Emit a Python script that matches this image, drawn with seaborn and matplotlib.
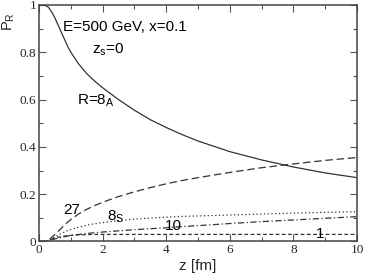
import matplotlib
matplotlib.use("Agg")
import matplotlib.pyplot as plt
import pandas as pd
import seaborn as sns
from matplotlib.ticker import MultipleLocator

# z grid in fm and the five P_R curves
z = [0, 0.2, 0.3, 0.4, 0.5, 0.6, 0.75, 0.9, 1, 1.25, 1.5, 1.75, 2, 2.5, 3, 3.5, 4, 4.5, 5, 6, 7, 8, 9, 10]
p_8a = [1.0, 0.998, 0.99, 0.97, 0.945, 0.915, 0.87, 0.825, 0.80, 0.75, 0.71, 0.678, 0.65, 0.60, 0.555,
        0.515, 0.482, 0.452, 0.425, 0.38, 0.345, 0.315, 0.29, 0.27]
p_27 = [0, 0, 0.005, 0.018, 0.03, 0.043, 0.063, 0.082, 0.093, 0.117, 0.136, 0.152, 0.166, 0.19, 0.21,
        0.228, 0.244, 0.258, 0.27, 0.292, 0.312, 0.328, 0.343, 0.355]
p_8s = [0, 0, 0.004, 0.013, 0.02, 0.027, 0.037, 0.046, 0.051, 0.061, 0.069, 0.075, 0.08, 0.088, 0.095,
        0.099, 0.103, 0.106, 0.108, 0.112, 0.116, 0.12, 0.123, 0.126]
p_10 = [0, 0, 0.003, 0.007, 0.011, 0.014, 0.019, 0.023, 0.025, 0.03, 0.034, 0.037, 0.04, 0.045, 0.05,
        0.054, 0.058, 0.063, 0.067, 0.076, 0.084, 0.091, 0.098, 0.105]
p_1 = [0, 0, 0.004, 0.01, 0.015, 0.018, 0.022, 0.025, 0.026, 0.028, 0.029, 0.03, 0.03, 0.03, 0.03,
       0.03, 0.03, 0.03, 0.03, 0.03, 0.03, 0.03, 0.03, 0.03]

df = pd.DataFrame({"z": z, "8A": p_8a, "27": p_27, "8S": p_8s, "10": p_10, "1": p_1})

sns.set_theme(style="ticks")
plt.rcParams["font.family"] = ["Liberation Sans", "DejaVu Sans"]
plt.rcParams["mathtext.default"] = "regular"

fig = plt.figure(figsize=(3.65, 2.73), dpi=100)
ax = fig.add_axes([0.107, 0.1154, 0.871, 0.8663])

line_color = "#333333"
styles = {
    "8A": "-",
    "27": (0, (6, 3)),
    "8S": (0, (1, 2)),
    "10": (0, (5, 2, 1, 2)),
    "1": (0, (3, 2)),
}
for col, ls in styles.items():
    sns.lineplot(data=df, x="z", y=col, ax=ax, color=line_color, linewidth=0.9, linestyle=ls)

ax.set_xlim(0, 10)
ax.set_ylim(0, 1)
ax.xaxis.set_minor_locator(MultipleLocator(1))
ax.yaxis.set_minor_locator(MultipleLocator(0.1))
ax.set_xticks([0, 2, 4, 6, 8, 10])
ax.set_xticklabels(["0", "2", "4", "6", "8", "10"])
ax.set_yticks([0, 0.2, 0.4, 0.6, 0.8, 1.0])
ax.set_yticklabels(["0", "0.2", "0.4", "0.6", "0.8", "1"])
ax.tick_params(which="both", direction="in", top=True, right=True, color="#555555")
ax.tick_params(which="major", length=5, width=0.8, pad=2)
ax.tick_params(which="minor", length=3, width=0.8)
for lab in ax.get_xticklabels() + ax.get_yticklabels():
    lab.set_fontfamily("Liberation Serif")
    lab.set_fontsize(9.5)
for sp in ax.spines.values():
    sp.set_linewidth(1.1)
    sp.set_color("#444444")

ax.set_xlabel("z [fm]", fontsize=11, labelpad=0)
ax.set_ylabel("P$_R$", fontsize=10.5)
ax.yaxis.set_label_coords(-0.07, 0.93)
ax.xaxis.set_label_coords(0.5, -0.075)

txt = dict(fontsize=11, color="black")
ax.text(0.75, 0.905, "E=500 GeV, x=0.1", va="center", **txt)
ax.text(1.67, 0.81, "z$_s$=0", va="center", **txt)
ax.text(1.2, 0.595, "R=8$_A$", va="center", **txt)
ax.text(0.75, 0.133, "27", va="center", **txt)
ax.text(2.15, 0.105, "8$_S$", va="center", **txt)
ax.text(3.95, 0.065, "10", va="center", **txt)
ax.text(8.72, 0.033, "1", va="center", **txt)

fig.savefig("out.png", dpi=100)
plt.close(fig)
